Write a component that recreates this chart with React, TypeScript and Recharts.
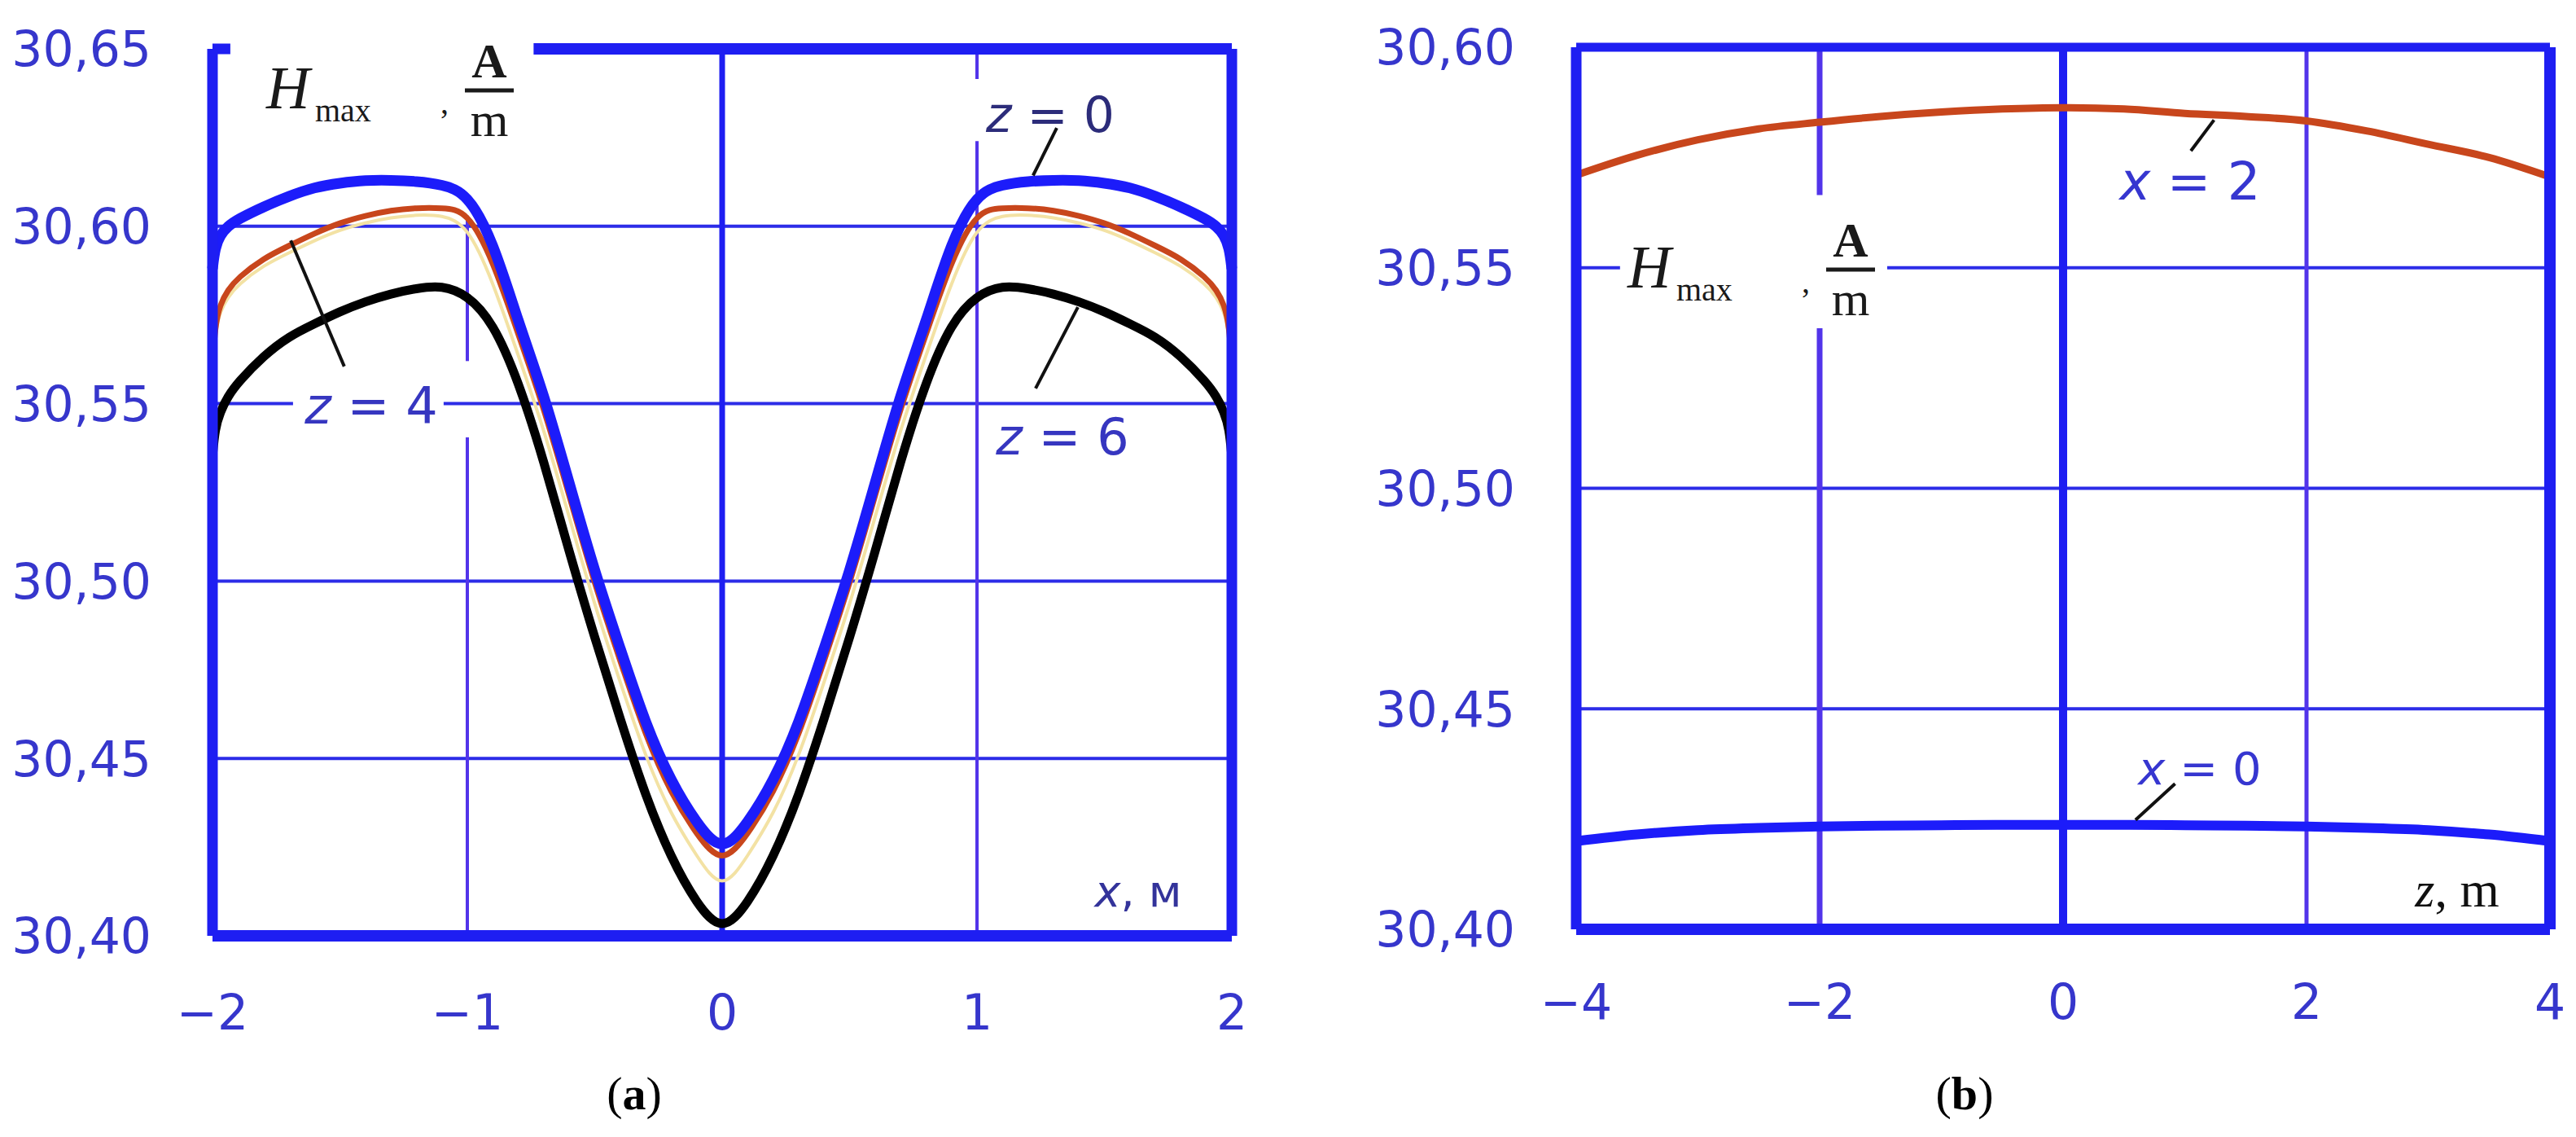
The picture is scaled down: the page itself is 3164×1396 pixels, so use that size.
import React from "react";
import { LineChart, Line, XAxis, YAxis, ReferenceLine, Customized } from "recharts";

// panel (a): H_max along x, for several z
const xA = [-2, -1.99, -1.97, -1.94, -1.9, -1.8, -1.7, -1.6, -1.5, -1.4, -1.3, -1.2, -1.1, -1, -0.9, -0.8, -0.7, -0.6, -0.5, -0.4, -0.3, -0.2, -0.1, 0,
  0.1, 0.2, 0.3, 0.4, 0.5, 0.6, 0.7, 0.8, 0.9, 1, 1.1, 1.2, 1.3, 1.4, 1.5, 1.6, 1.7, 1.8, 1.9, 1.94, 1.97, 1.99, 2];
const hZ0 = [30.588, 30.594, 30.5975, 30.6, 30.602, 30.6055, 30.6085, 30.611, 30.6122, 30.613, 30.613, 30.6127, 30.6118, 30.6094, 30.596, 30.573, 30.5528, 30.5276, 30.5025, 30.481, 30.4595, 30.4433, 30.4317, 30.423,
  30.4317, 30.4433, 30.4595, 30.481, 30.5025, 30.5276, 30.5528, 30.573, 30.596, 30.6094, 30.6118, 30.6127, 30.613, 30.613, 30.6122, 30.611, 30.6085, 30.6055, 30.602, 30.6, 30.5975, 30.594, 30.588];
const hZ4 = [30.56, 30.572, 30.578, 30.582, 30.5855, 30.591, 30.5945, 30.598, 30.601, 30.603, 30.6045, 30.6052, 30.6052, 30.6045, 30.5905, 30.5695, 30.549, 30.524, 30.499, 30.4775, 30.4562, 30.44, 30.4285, 30.4197,
  30.4285, 30.44, 30.4562, 30.4775, 30.499, 30.524, 30.549, 30.5695, 30.5905, 30.6045, 30.6052, 30.6052, 30.6045, 30.603, 30.601, 30.598, 30.5945, 30.591, 30.5855, 30.582, 30.578, 30.572, 30.56];
const hEdge = [30.558, 30.57, 30.576, 30.58, 30.5835, 30.589, 30.5925, 30.596, 30.599, 30.601, 30.6025, 30.6032, 30.6032, 30.6005, 30.5845, 30.5635, 30.543, 30.518, 30.493, 30.4715, 30.4502, 30.434, 30.4225, 30.412,
  30.4225, 30.434, 30.4502, 30.4715, 30.493, 30.518, 30.543, 30.5635, 30.5845, 30.6005, 30.6032, 30.6032, 30.6025, 30.601, 30.599, 30.596, 30.5925, 30.589, 30.5835, 30.58, 30.576, 30.57, 30.558];
const hZ6 = [30.535, 30.543, 30.5476, 30.552, 30.556, 30.5635, 30.569, 30.5725, 30.576, 30.5788, 30.581, 30.5825, 30.5834, 30.5807, 30.573, 30.5565, 30.534, 30.508, 30.484, 30.461, 30.4392, 30.4218, 30.409, 30.4007,
  30.409, 30.4218, 30.4392, 30.461, 30.484, 30.508, 30.534, 30.5565, 30.573, 30.5807, 30.5834, 30.5825, 30.581, 30.5788, 30.576, 30.5725, 30.569, 30.5635, 30.556, 30.552, 30.5476, 30.543, 30.535];
const xTicksA = [-2, -1, 0, 1, 2];
const yTicksA = [30.4, 30.45, 30.5, 30.55, 30.6, 30.65];

// panel (b): H_max along z, for x = 2 and x = 0
const zB = [-4, -3.5, -3, -2.5, -2, -1.5, -1, -0.5, 0, 0.5, 1, 1.5, 2, 2.5, 3, 3.5, 4];
const hX2 = [30.571, 30.5755, 30.579, 30.5815, 30.583, 30.5843, 30.5853, 30.586, 30.5863, 30.586, 30.585, 30.5843, 30.5833, 30.581, 30.578, 30.575, 30.5706];
const hX0 = [30.42, 30.4215, 30.4225, 30.423, 30.4233, 30.4235, 30.4236, 30.4237, 30.4237, 30.4237, 30.4236, 30.4235, 30.4233, 30.423, 30.4225, 30.4215, 30.42];
const xTicksB = [-4, -2, 0, 2, 4];
const yTicksB = [30.4, 30.45, 30.5, 30.55, 30.6];

const rows = (xs: number[], ys: number[]) => xs.map((x, i) => ({ x, v: ys[i] }));
const fmtY = (v: number) => v.toFixed(2).replace(".", ",");
const fmtX = (v: number) => (v < 0 ? `\u2212${Math.abs(v)}` : `${v}`);

const BORDER = "#1e1ef2";
const GRID = "#2c2ce8";
const GRID_V = "#5234ea";
const TICK = { fontSize: 60, fill: "#3636cc", fontFamily: "DejaVu Sans" };
const halo = { stroke: "#fff", strokeWidth: 14, paintOrder: "stroke" as const, strokeLinejoin: "round" as const };

const HLabel = ({ x, y }: { x: number; y: number }) => (
  <g fontFamily="Liberation Serif" fill="#1a1a1a">
    <text x={x} y={y} fontSize={74} fontStyle="italic">H</text>
    <text x={x + 60} y={y + 16} fontSize={40}>max</text>
    <text x={x + 214} y={y + 6} fontSize={40}>,</text>
    <text x={x + 274} y={y - 38} fontSize={60} fontWeight="bold" textAnchor="middle">A</text>
    <line x1={x + 244} x2={x + 304} y1={y - 22} y2={y - 22} stroke="#1a1a1a" strokeWidth={5} />
    <text x={x + 274} y={y + 34} fontSize={60} textAnchor="middle">m</text>
  </g>
);

const NotesA = () => (
  <g fontFamily="DejaVu Sans">
    <HLabel x={327} y={133} />
    <text x={1290} y={162} fontSize={60} fill="#2c2c7a" textAnchor="middle" {...halo}>
      <tspan fontStyle="italic">z</tspan> = 0
    </text>
    <text x={456} y={520} fontSize={62} fill="#3636c0" textAnchor="middle" {...halo}>
      <tspan fontStyle="italic">z</tspan> = 4
    </text>
    <text x={1305} y={558} fontSize={62} fill="#3636c0" textAnchor="middle" {...halo}>
      <tspan fontStyle="italic">z</tspan> = 6
    </text>
    <text x={1398} y={1113} fontSize={54} fill="#33339a" textAnchor="middle" {...halo}>
      <tspan fontStyle="italic">x</tspan>, м
    </text>
    <text x={779} y={1362} fontSize={58} fill="#000" textAnchor="middle" fontFamily="Liberation Serif">
      (<tspan fontWeight="bold">a</tspan>)
    </text>
  </g>
);

const NotesB = () => (
  <g fontFamily="DejaVu Sans">
    <HLabel x={359} y={353} />
    <text x={1050} y={245} fontSize={64} fill="#3636d0" textAnchor="middle" {...halo}>
      <tspan fontStyle="italic">x</tspan> = 2
    </text>
    <text x={1062} y={963} fontSize={56} fill="#3636d0" textAnchor="middle" {...halo}>
      <tspan fontStyle="italic">x</tspan> = 0
    </text>
    <text x={1378} y={1113} fontSize={62} fill="#111" textAnchor="middle" fontFamily="Liberation Serif" {...halo}>
      <tspan fontStyle="italic">z</tspan>, m
    </text>
    <text x={773} y={1362} fontSize={58} fill="#000" textAnchor="middle" fontFamily="Liberation Serif">
      (<tspan fontWeight="bold">b</tspan>)
    </text>
  </g>
);

const App = () => {
  return (
    <div style={{ position: "absolute", left: 0, top: 0, width: 3164, height: 1396, background: "#fff" }}>
      <div style={{ position: "absolute", left: 0, top: 0 }}>
        <LineChart width={1640} height={1396} margin={{ top: 60, right: 127, bottom: 127, left: 0 }}>
          <XAxis type="number" dataKey="x" domain={[-2, 2]} ticks={xTicksA} tickFormatter={fmtX}
            axisLine={false} tickLine={false} tickSize={0} tickMargin={72} height={120} tick={TICK} />
          <YAxis type="number" domain={[30.4, 30.65]} ticks={yTicksA} tickFormatter={fmtY}
            axisLine={false} tickLine={false} tickSize={0} tickMargin={75} width={261} tick={TICK} />
          {[30.45, 30.5, 30.6].map((y) => (
            <ReferenceLine key={y} y={y} stroke={GRID} strokeWidth={4} />
          ))}
          <ReferenceLine segment={[{ x: -2, y: 30.55 }, { x: -1.684, y: 30.55 }]} stroke={GRID} strokeWidth={4} />
          <ReferenceLine segment={[{ x: -1.093, y: 30.55 }, { x: 2, y: 30.55 }]} stroke={GRID} strokeWidth={4} />
          <ReferenceLine segment={[{ x: -1, y: 30.4 }, { x: -1, y: 30.5405 }]} stroke={GRID_V} strokeWidth={4} />
          <ReferenceLine segment={[{ x: -1, y: 30.562 }, { x: -1, y: 30.603 }]} stroke={GRID_V} strokeWidth={4} />
          <ReferenceLine segment={[{ x: 1, y: 30.4 }, { x: 1, y: 30.624 }]} stroke={GRID_V} strokeWidth={4} />
          <ReferenceLine segment={[{ x: 1, y: 30.6415 }, { x: 1, y: 30.65 }]} stroke={GRID_V} strokeWidth={4} />
          <ReferenceLine x={0} stroke={BORDER} strokeWidth={7} />
          <Line data={rows(xA, hZ6)} dataKey="v" type="basis" stroke="#000" strokeWidth={11} dot={false} isAnimationActive={false} />
          <Line data={rows(xA, hEdge)} dataKey="v" type="basis" stroke="#f3e2a4" strokeWidth={4} dot={false} isAnimationActive={false} />
          <Line data={rows(xA, hZ4)} dataKey="v" type="basis" stroke="#c8461c" strokeWidth={7} dot={false} isAnimationActive={false} />
          <Line data={rows(xA, hZ0)} dataKey="v" type="basis" stroke="#1c1cfa" strokeWidth={13} dot={false} isAnimationActive={false} />
          <ReferenceLine x={-2} stroke={BORDER} strokeWidth={13} />
          <ReferenceLine x={2} stroke={BORDER} strokeWidth={13} />
          <ReferenceLine y={30.4} stroke={BORDER} strokeWidth={14} />
          <ReferenceLine segment={[{ x: -2, y: 30.65 }, { x: -1.93, y: 30.65 }]} stroke={BORDER} strokeWidth={13} />
          <ReferenceLine segment={[{ x: -0.74, y: 30.65 }, { x: 2, y: 30.65 }]} stroke={BORDER} strokeWidth={14} />
          <Customized component={NotesA} />
          <ReferenceLine segment={[{ x: 1.313, y: 30.6277 }, { x: 1.22, y: 30.6143 }]} stroke="#111" strokeWidth={4} />
          <ReferenceLine segment={[{ x: -1.693, y: 30.596 }, { x: -1.483, y: 30.5605 }]} stroke="#111" strokeWidth={4} />
          <ReferenceLine segment={[{ x: 1.396, y: 30.5772 }, { x: 1.23, y: 30.5543 }]} stroke="#111" strokeWidth={4} />
        </LineChart>
      </div>
      <div style={{ position: "absolute", left: 1640, top: 0 }}>
        <LineChart width={1524} height={1396} margin={{ top: 58, right: 32, bottom: 135, left: 0 }}>
          <XAxis type="number" dataKey="x" domain={[-4, 4]} ticks={xTicksB} tickFormatter={fmtX}
            axisLine={false} tickLine={false} tickSize={0} tickMargin={67} height={120} tick={TICK} />
          <YAxis type="number" domain={[30.4, 30.6]} ticks={yTicksB} tickFormatter={fmtY}
            axisLine={false} tickLine={false} tickSize={0} tickMargin={75} width={296} tick={TICK} />
          {[30.45, 30.5].map((y) => (
            <ReferenceLine key={y} y={y} stroke={GRID} strokeWidth={4} />
          ))}
          <ReferenceLine segment={[{ x: -4, y: 30.55 }, { x: -3.64, y: 30.55 }]} stroke={GRID} strokeWidth={4} />
          <ReferenceLine segment={[{ x: -1.445, y: 30.55 }, { x: 4, y: 30.55 }]} stroke={GRID} strokeWidth={4} />
          <ReferenceLine segment={[{ x: -2, y: 30.4 }, { x: -2, y: 30.5363 }]} stroke={GRID_V} strokeWidth={7} />
          <ReferenceLine segment={[{ x: -2, y: 30.5665 }, { x: -2, y: 30.6 }]} stroke={GRID_V} strokeWidth={7} />
          <ReferenceLine x={2} stroke={GRID_V} strokeWidth={5} />
          <ReferenceLine x={0} stroke={BORDER} strokeWidth={10} />
          <Line data={rows(zB, hX2)} dataKey="v" type="monotone" stroke="#c8461c" strokeWidth={9} dot={false} isAnimationActive={false} />
          <Line data={rows(zB, hX0)} dataKey="v" type="monotone" stroke="#1c1cfa" strokeWidth={12} dot={false} isAnimationActive={false} />
          <ReferenceLine x={-4} stroke={BORDER} strokeWidth={13} />
          <ReferenceLine x={4} stroke={BORDER} strokeWidth={14} />
          <ReferenceLine y={30.4} stroke={BORDER} strokeWidth={14} />
          <ReferenceLine y={30.6} stroke={BORDER} strokeWidth={11} />
          <Customized component={NotesB} />
          <ReferenceLine segment={[{ x: 1.05, y: 30.5765 }, { x: 1.24, y: 30.5835 }]} stroke="#111" strokeWidth={4} />
          <ReferenceLine segment={[{ x: 0.92, y: 30.433 }, { x: 0.595, y: 30.4248 }]} stroke="#111" strokeWidth={4} />
        </LineChart>
      </div>
    </div>
  );
};

export default App;
